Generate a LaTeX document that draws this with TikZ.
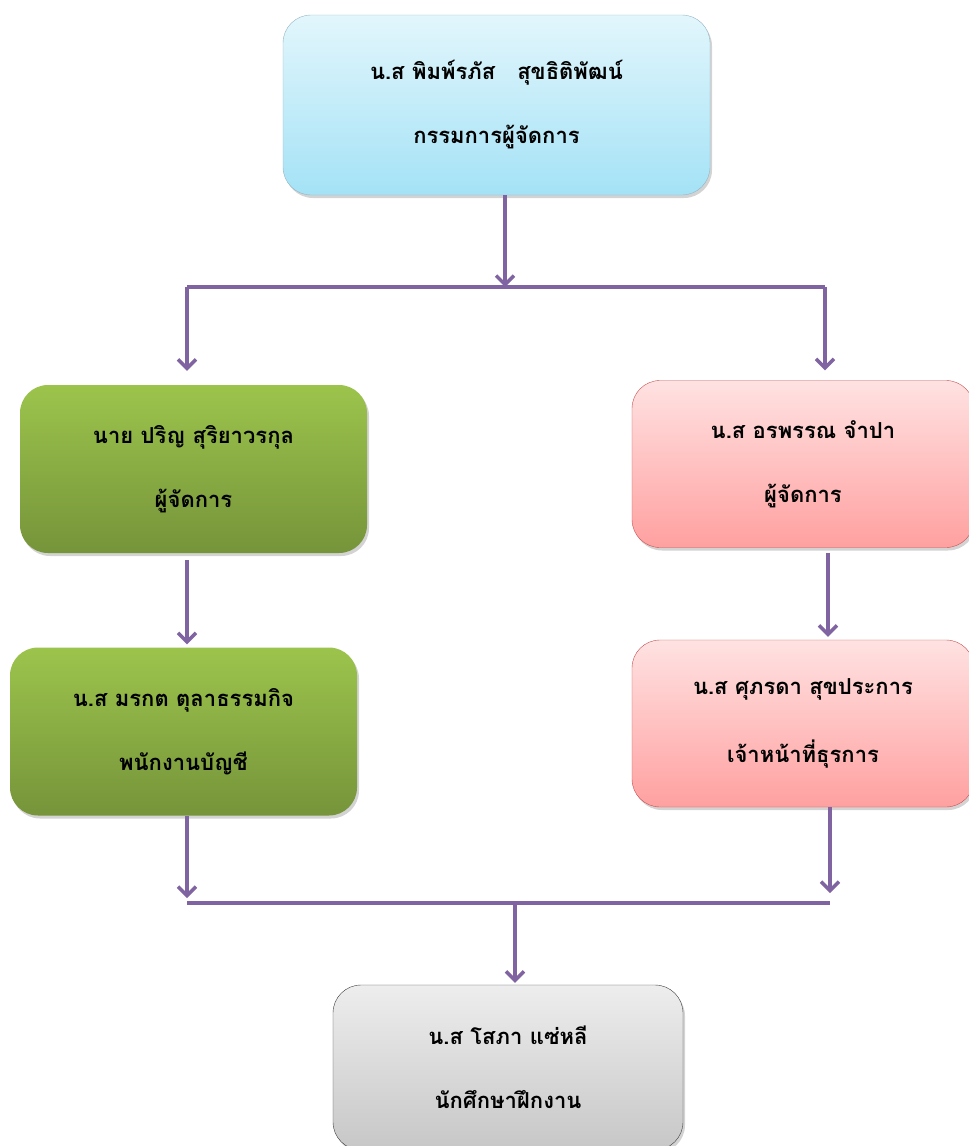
\documentclass[tikz,border=0pt]{standalone}
\usepackage{fontspec}
\newfontfamily\thaifont[Script=Thai]{Loma}
\usetikzlibrary{arrows.meta,positioning,shadows}
\definecolor{linkpurple}{HTML}{8064A2}
\tikzset
{
    orgbox/.style   = {rounded corners=28pt, align=center, font=\thaifont\bfseries\fontsize{22}{26}\selectfont,
                       drop shadow={shadow xshift=2pt, shadow yshift=-3pt, opacity=0.35}},
    mdbox/.style    = {orgbox, draw={rgb,255:red,150;green,180;blue,195}, top color={rgb,255:red,226;green,246;blue,252}, bottom color={rgb,255:red,164;green,226;blue,246}, minimum width=427pt, minimum height=180pt},
    greenbox/.style = {orgbox, draw=none, top color={rgb,255:red,156;green,196;blue,76}, bottom color={rgb,255:red,118;green,148;blue,58}, minimum width=347pt, minimum height=168pt},
    redbox/.style   = {orgbox, draw={rgb,255:red,200;green,80;blue,80}, top color={rgb,255:red,255;green,226;blue,226}, bottom color={rgb,255:red,255;green,160;blue,160}, minimum width=342pt, minimum height=167pt},
    greybox/.style  = {orgbox, draw=black!75, top color=black!7, bottom color=black!22, minimum width=350pt, minimum height=165pt},
    conn/.style     = {draw=linkpurple, line width=4.5pt},
    arr/.style      = {conn, -{Straight Barb[length=9pt, width=18pt, line width=3.5pt]}}
}
\begin{document}
\begin{tikzpicture}[x=1pt, y=-1pt]
    \useasboundingbox (0,0) rectangle (969,1146);
    \node [mdbox]    (md)     at (496.5,105)  {น.ส พิมพ์รภัส\quad สุขธิติพัฒน์\\[38pt]กรรมการผู้จัดการ};
    \node [greenbox] (mgrL)   at (193.5,469)  {นาย ปริญ สุริยาวรกุล\\[38pt]ผู้จัดการ};
    \node [redbox]   (mgrR)   at (803,464)    {น.ส อรพรรณ จำปา\\[38pt]ผู้จัดการ};
    \node [greenbox] (acct)   at (183.5,731.5){น.ส มรกต ตุลาธรรมกิจ\\[38pt]พนักงานบัญชี};
    \node [redbox]   (admin)  at (803,723.5)  {น.ส ศุภรดา สุขประการ\\[38pt]เจ้าหน้าที่ธุรการ};
    \node [greybox]  (intern) at (508,1067.5) {น.ส โสภา แซ่หลี\\[38pt]นักศึกษาฝึกงาน};

    \coordinate (split)  at (505,287);
    \coordinate (splitL) at (187,287);
    \coordinate (splitR) at (825,287);
    \coordinate (joinL)  at (187,903);
    \coordinate (joinR)  at (830,903);
    \coordinate (join)   at (515,903);

    \draw [arr] (split |- md.south) -- (split);
    \draw [conn] (splitL) -- (splitR);
    \draw [arr, shorten >=14pt] (splitL) -- (splitL |- mgrL.north);
    \draw [arr, shorten >=10pt] (splitR) -- (splitR |- mgrR.north);
    \draw [arr, shorten <=7pt, shorten >=3pt] (mgrL.south -| splitL) -- (acct.north -| splitL);
    \draw [arr, shorten <=5pt, shorten >=3pt] (mgrR.south -| 828,0) -- (admin.north -| 828,0);
    \draw [arr, shorten >=5pt] (acct.south -| joinL) -- (joinL);
    \draw [arr, shorten >=10pt] (admin.south -| joinR) -- (joinR);
    \draw [conn] (joinL) -- (joinR);
    \draw [arr, shorten >=2pt] (join) -- (join |- intern.north);
\end{tikzpicture}
\end{document}
